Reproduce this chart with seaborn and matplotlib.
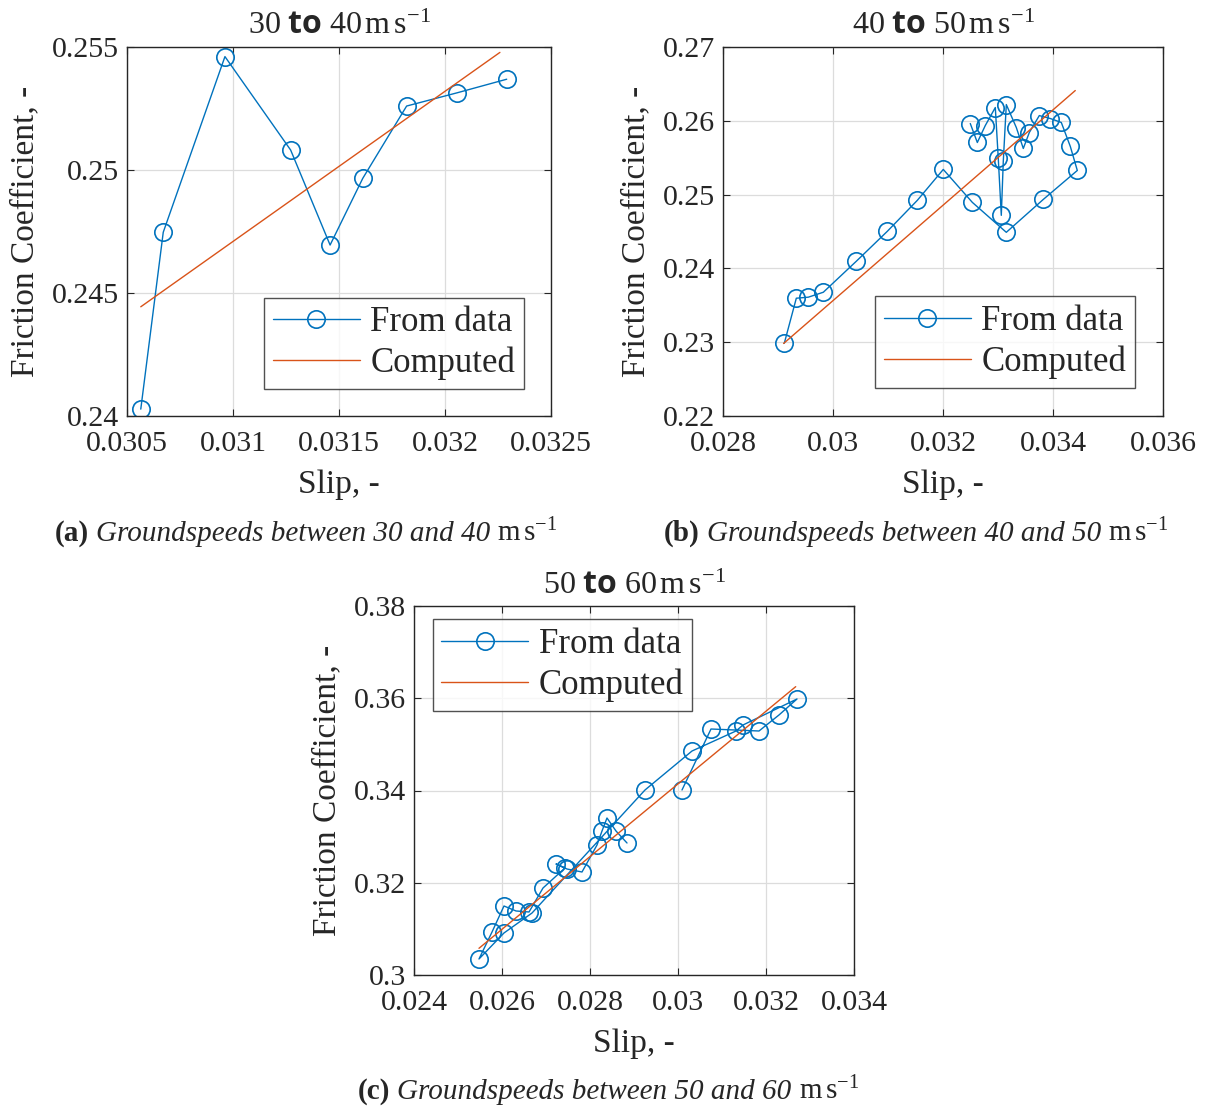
import numpy as np
import pandas as pd
import matplotlib
matplotlib.use("Agg")
import matplotlib.pyplot as plt
import seaborn as sns

# ---------------- data ----------------
# (a) 30 to 40 m/s
a_slip = [0.030565, 0.030671, 0.030962, 0.031272, 0.031458, 0.031612, 0.031819, 0.032058, 0.032291]
a_mu = [0.24028, 0.24747, 0.25461, 0.25081, 0.24695, 0.24966, 0.25260, 0.25314, 0.25369]
a_comp_slip = [0.030565, 0.032259]
a_comp_mu = [0.24444, 0.25478]

# (b) 40 to 50 m/s
b_slip = [0.029115, 0.029333, 0.029551, 0.029824, 0.030424, 0.030987, 0.031533, 0.032005,
          0.032533, 0.033151, 0.033824, 0.034442, 0.034315, 0.034151, 0.033951, 0.033751,
          0.033569, 0.033460, 0.033333, 0.033151, 0.033096, 0.033060, 0.033005, 0.032951,
          0.032769, 0.032624, 0.032496]
b_mu = [0.22987, 0.23596, 0.23610, 0.23677, 0.24097, 0.24502, 0.24922, 0.25341,
        0.24895, 0.24489, 0.24935, 0.25327, 0.25652, 0.25977, 0.26031, 0.26071,
        0.25841, 0.25625, 0.25909, 0.26220, 0.25449, 0.24719, 0.25490, 0.26180,
        0.25936, 0.25706, 0.25963]
b_comp_slip = [0.029102, 0.034405]
b_comp_mu = [0.22983, 0.26410]

# (c) 50 to 60 m/s
c_slip = [0.028841, 0.028591, 0.028386, 0.028273, 0.028159, 0.027818, 0.027477, 0.027227,
          0.027432, 0.026932, 0.026614, 0.026318, 0.026045, 0.025773, 0.025477, 0.026045,
          0.026682, 0.029250, 0.030318, 0.031318, 0.031477, 0.032705, 0.032295, 0.031841,
          0.030750, 0.030091]
c_mu = [0.32862, 0.33122, 0.33404, 0.33122, 0.32818, 0.32233, 0.32298, 0.32407,
        0.32320, 0.31886, 0.31366, 0.31388, 0.31496, 0.30932, 0.30347, 0.30911,
        0.31344, 0.34011, 0.34856, 0.35290, 0.35420, 0.35984, 0.35637, 0.35290,
        0.35333, 0.34011]
c_comp_slip = [0.025477, 0.032675]
c_comp_mu = [0.30579, 0.36251]

# ticks
a_xticks = [0.0305, 0.031, 0.0315, 0.032, 0.0325]
a_xlabels = ["0.0305", "0.031", "0.0315", "0.032", "0.0325"]
a_yticks = [0.24, 0.245, 0.25, 0.255]
a_ylabels = ["0.24", "0.245", "0.25", "0.255"]
b_xticks = [0.028, 0.030, 0.032, 0.034, 0.036]
b_xlabels = ["0.028", "0.03", "0.032", "0.034", "0.036"]
b_yticks = [0.22, 0.23, 0.24, 0.25, 0.26, 0.27]
b_ylabels = ["0.22", "0.23", "0.24", "0.25", "0.26", "0.27"]
c_xticks = [0.024, 0.026, 0.028, 0.030, 0.032, 0.034]
c_xlabels = ["0.024", "0.026", "0.028", "0.03", "0.032", "0.034"]
c_yticks = [0.30, 0.32, 0.34, 0.36, 0.38]
c_ylabels = ["0.3", "0.32", "0.34", "0.36", "0.38"]

titles = [r"$30\ \mathsf{to}\ 40\,\mathrm{m\,s^{-1}}$",
          r"$40\ \mathsf{to}\ 50\,\mathrm{m\,s^{-1}}$",
          r"$50\ \mathsf{to}\ 60\,\mathrm{m\,s^{-1}}$"]
cap_tags = ["(a)", "(b)", "(c)"]
cap_texts = ["Groundspeeds between 30 and 40",
             "Groundspeeds between 40 and 50",
             "Groundspeeds between 50 and 60"]
cap_unit = r"$\mathrm{m\,s^{-1}}$"
legend_labels = ["From data", "Computed"]
xlabel = "Slip, -"
ylabel = "Friction Coefficient, -"

# ---------------- style ----------------
sns.set_style("ticks")
SERIF = "Liberation Serif"
plt.rcParams["font.family"] = [SERIF, "DejaVu Serif"]
plt.rcParams["mathtext.fontset"] = "custom"
plt.rcParams["mathtext.rm"] = SERIF
plt.rcParams["mathtext.it"] = SERIF + ":italic"
plt.rcParams["mathtext.bf"] = SERIF + ":bold"
plt.rcParams["mathtext.sf"] = "Open Sans:bold"

BLUE = "#0072BD"
ORANGE = "#D95319"
GRID = "#dcdcdc"
EDGE = "#262626"

W, H = 1209, 1108
fig = plt.figure(figsize=(W / 100, H / 100), dpi=100)


def px_axes(left, top, right, bottom):
    return fig.add_axes([left / W, 1 - bottom / H, (right - left) / W, (bottom - top) / H])


def panel(ax, xs, ys, cx, cy, xt, xl, yt, yl, title, leg_loc, leg_anchor):
    df = pd.DataFrame({"slip": xs, "mu": ys})
    dc = pd.DataFrame({"slip": cx, "mu": cy})
    sns.lineplot(data=df, x="slip", y="mu", sort=False, estimator=None, ax=ax,
                 color=BLUE, lw=1.0, marker="o", markersize=12.5,
                 markerfacecolor="none", markeredgecolor=BLUE, markeredgewidth=1.2,
                 label=legend_labels[0])
    sns.lineplot(data=dc, x="slip", y="mu", sort=False, estimator=None, ax=ax,
                 color=ORANGE, lw=1.0, label=legend_labels[1])
    ax.set_xlim(xt[0], xt[-1])
    ax.set_ylim(yt[0], yt[-1])
    ax.set_xticks(xt)
    ax.set_xticklabels(xl)
    ax.set_yticks(yt)
    ax.set_yticklabels(yl)
    ax.grid(True, color=GRID, lw=0.9)
    ax.set_axisbelow(True)
    ax.tick_params(direction="in", length=5, width=0.8, top=True, right=True,
                   labelsize=21.5, color=EDGE)
    ax.tick_params(axis="x", pad=11)
    ax.tick_params(axis="y", pad=6)
    for s in ax.spines.values():
        s.set_color(EDGE)
        s.set_linewidth(1.0)
        s.set_visible(True)
    ax.set_xlabel(xlabel, fontsize=24, labelpad=9)
    ax.set_ylabel(ylabel, fontsize=24, labelpad=8)
    ax.set_title(title, fontsize=23, pad=9)
    leg = ax.legend(loc=leg_loc, bbox_to_anchor=leg_anchor, borderaxespad=0,
                    fontsize=25, frameon=True, fancybox=False, handlelength=2.5,
                    handletextpad=0.3, borderpad=0.25, labelspacing=0.22)
    leg.get_frame().set_edgecolor(EDGE)
    leg.get_frame().set_linewidth(1.0)


ax_a = px_axes(127, 47, 551, 416)
panel(ax_a, a_slip, a_mu, a_comp_slip, a_comp_mu, a_xticks, a_xlabels, a_yticks, a_ylabels,
      titles[0], "lower right", (0.936, 0.073))

ax_b = px_axes(723, 47, 1163, 416)
panel(ax_b, b_slip, b_mu, b_comp_slip, b_comp_mu, b_xticks, b_xlabels, b_yticks, b_ylabels,
      titles[1], "lower right", (0.936, 0.076))

ax_c = px_axes(414, 606, 854, 975)
panel(ax_c, c_slip, c_mu, c_comp_slip, c_comp_mu, c_xticks, c_xlabels, c_yticks, c_ylabels,
      titles[2], "upper left", (0.0425, 0.964))


def caption(xc_px, ybase_px, tag, body, unit, fs=21):
    renderer = fig.canvas.get_renderer()
    parts = [fig.text(0, 1 - ybase_px / H, tag, fontsize=fs, fontweight="bold", va="baseline"),
             fig.text(0, 1 - ybase_px / H, body, fontsize=fs, style="italic", va="baseline"),
             fig.text(0, 1 - ybase_px / H, unit, fontsize=fs, va="baseline")]
    widths = [p.get_window_extent(renderer).width for p in parts]
    gap = fs * 1.389 * 0.25
    total = sum(widths) + gap * (len(parts) - 1)
    cur = xc_px - total / 2
    for p, w in zip(parts, widths):
        p.set_x(cur / W)
        cur += w + gap


caption(306, 541, cap_tags[0], cap_texts[0], cap_unit)
caption(916, 541, cap_tags[1], cap_texts[1], cap_unit)
caption(608, 1099, cap_tags[2], cap_texts[2], cap_unit)

fig.savefig("out.png", dpi=100, facecolor="white")
